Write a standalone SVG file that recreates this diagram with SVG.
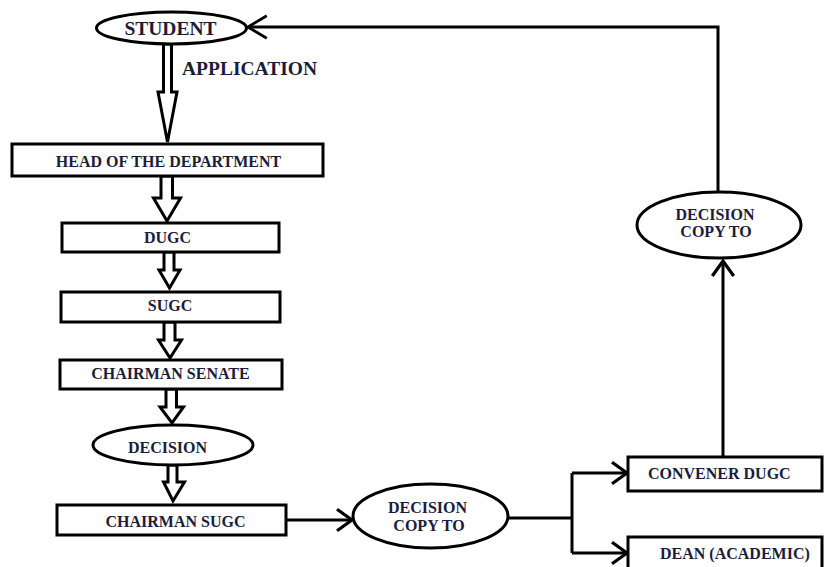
<svg xmlns="http://www.w3.org/2000/svg" width="824" height="567" viewBox="0 0 824 567">
<style>
.box{fill:#fff;stroke:#000;stroke-width:3}
.ell{fill:#fff;stroke:#000;stroke-width:3}
.blk{fill:#fff;stroke:#000;stroke-width:3;stroke-linejoin:miter}
.ln{fill:none;stroke:#000;stroke-width:3}
text{font-family:"Liberation Serif","Times New Roman",serif;font-weight:bold;fill:#1c1c3a;font-size:16px}
.big{font-size:19.5px}
.c{text-anchor:middle}
</style>
<defs>
<marker id="ah" markerUnits="userSpaceOnUse" markerWidth="30" markerHeight="30" viewBox="-18 -14 22 28" refX="0" refY="0" orient="auto" overflow="visible">
<path d="M-14,-10 L0,0 L-14,10" fill="none" stroke="#000" stroke-width="3"/>
</marker>
<marker id="ahL" markerUnits="userSpaceOnUse" markerWidth="30" markerHeight="30" viewBox="-22 -16 26 32" refX="0" refY="0" orient="auto" overflow="visible">
<path d="M-20,-12 L0,0 L-20,12" fill="none" stroke="#000" stroke-width="3"/>
</marker>
</defs>

<g id="connectors">
<polygon class="blk" points="163.5,44 163.5,92 158,92 167.5,142 177,92 171.5,92 171.5,44"/>
<polygon class="blk" points="161,176 161,198 153.5,198 167,221 180.5,198 172.5,198 172.5,176"/>
<polygon class="blk" points="164,252 164,270 159,270 169.5,288 180,270 174,270 174,252"/>
<polygon class="blk" points="164,322 164,340 158.5,340 170,358 181.5,340 175,340 175,322"/>
<polygon class="blk" points="166,389 166,407 160,407 172,423 183.5,407 176.5,407 176.5,389"/>
<polygon class="blk" points="168,465 168,482 163.5,482 173,501 184.5,482 177,482 177,465"/>
<path class="ln" d="M286,520 L352,520" marker-end="url(#ah)"/>
<path class="ln" d="M508,518 L572,518"/>
<path class="ln" d="M572,473 L572,553"/>
<path class="ln" d="M572,473 L627,473" marker-end="url(#ah)"/>
<path class="ln" d="M572,553 L627,553" marker-end="url(#ah)"/>
<path class="ln" d="M723,457 L723,261" marker-end="url(#ah)"/>
<path class="ln" d="M718,192 L718,27 L248,27" marker-end="url(#ahL)"/>
</g>

<g id="student">
<ellipse class="ell" cx="171.5" cy="28" rx="75" ry="16"/>
<text class="big c" x="170.5" y="35">STUDENT</text>
</g>
<g id="application-label">
<text class="big" x="182" y="75">APPLICATION</text>
</g>
<g id="hod">
<rect class="box" x="12" y="144" width="311" height="32"/>
<text class="c" x="168.5" y="167">HEAD OF THE DEPARTMENT</text>
</g>
<g id="dugc">
<rect class="box" x="62" y="223" width="217" height="29"/>
<text class="c" x="167.5" y="243">DUGC</text>
</g>
<g id="sugc">
<rect class="box" x="61" y="292" width="219" height="30"/>
<text class="c" x="170" y="311">SUGC</text>
</g>
<g id="chairman-senate">
<rect class="box" x="60" y="360" width="222" height="29"/>
<text class="c" x="170.5" y="379">CHAIRMAN SENATE</text>
</g>
<g id="decision">
<ellipse class="ell" cx="173" cy="445" rx="80" ry="20"/>
<text class="c" x="167.5" y="453">DECISION</text>
</g>
<g id="chairman-sugc">
<rect class="box" x="57" y="505" width="229" height="30"/>
<text class="c" x="175.5" y="527">CHAIRMAN SUGC</text>
</g>
<g id="decision-copy-bottom">
<ellipse class="ell" cx="430.5" cy="516" rx="77.5" ry="32"/>
<text class="c" x="427.5" y="513">DECISION</text>
<text class="c" x="429" y="531">COPY TO</text>
</g>
<g id="convener-dugc">
<rect class="box" x="628" y="457" width="194" height="34"/>
<text x="648" y="479">CONVENER DUGC</text>
</g>
<g id="dean-academic">
<rect class="box" x="628" y="537" width="194" height="40"/>
<text x="660" y="559">DEAN (ACADEMIC)</text>
</g>
<g id="decision-copy-top">
<ellipse class="ell" cx="719" cy="225" rx="82" ry="33"/>
<text class="c" x="715" y="220">DECISION</text>
<text class="c" x="716" y="237">COPY TO</text>
</g>
</svg>
